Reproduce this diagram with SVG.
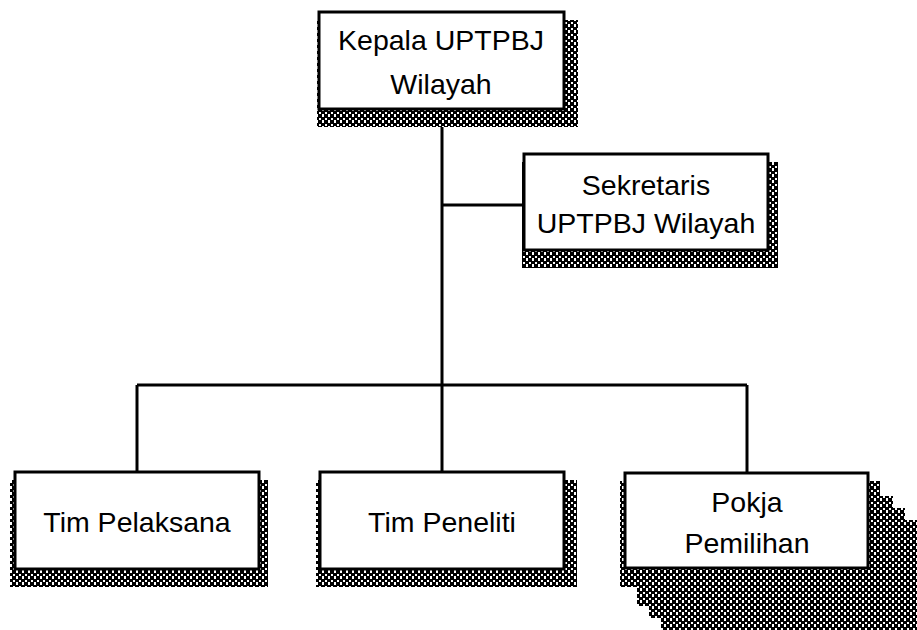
<svg xmlns="http://www.w3.org/2000/svg" width="917" height="630" viewBox="0 0 917 630">
  <defs>
    <pattern id="dots" width="6" height="6" patternUnits="userSpaceOnUse">
      <rect width="6" height="6" fill="#fff"/>
      <rect x="0" y="0" width="4" height="4" fill="#000"/>
      <rect x="3" y="3" width="4" height="3" fill="#000"/>
      <rect x="-3" y="3" width="4" height="3" fill="#000"/>
    </pattern>
    <style>
      .box { fill: #fff; stroke: #000; stroke-width: 3; }
      .shadow { fill: url(#dots); }
      .line { fill: none; stroke: #000; stroke-width: 3; }
      .lbl { font-family: "Liberation Sans", Arial, sans-serif; font-size: 28.5px; fill: #000; text-anchor: middle; }
    </style>
  </defs>

  <!-- connectors -->
  <g id="connectors">
    <path class="line" d="M442 109 V385"/>
    <path class="line" d="M442 205 H524"/>
    <path class="line" d="M137 385 H747"/>
    <path class="line" d="M137 385 V472"/>
    <path class="line" d="M442 385 V472"/>
    <path class="line" d="M747 385 V473"/>
  </g>

  <g id="kepala">
    <rect class="shadow" x="317" y="20" width="261" height="107"/>
    <rect class="box" x="319" y="12" width="245" height="97"/>
    <text class="lbl" x="441" y="50">Kepala UPTPBJ</text>
    <text class="lbl" x="441" y="94">Wilayah</text>
  </g>

  <g id="sekretaris">
    <rect class="shadow" x="522" y="162" width="256" height="106"/>
    <rect class="box" x="524" y="154" width="244" height="96"/>
    <text class="lbl" x="646" y="195">Sekretaris</text>
    <text class="lbl" x="646" y="233">UPTPBJ Wilayah</text>
  </g>

  <g id="tim-pelaksana">
    <rect class="shadow" x="10" y="480" width="258" height="107"/>
    <rect class="box" x="15" y="472" width="244" height="97"/>
    <text class="lbl" x="137" y="532">Tim Pelaksana</text>
  </g>

  <g id="tim-peneliti">
    <rect class="shadow" x="316" y="480" width="261" height="107"/>
    <rect class="box" x="320" y="472" width="244" height="97"/>
    <text class="lbl" x="442" y="532">Tim Peneliti</text>
  </g>

  <g id="pokja-pemilihan">
    <rect class="shadow" x="661" y="520" width="256" height="110"/>
    <rect class="shadow" x="649" y="508" width="256" height="110"/>
    <rect class="shadow" x="637" y="496" width="256" height="110"/>
    <rect class="shadow" x="620" y="481" width="260" height="106"/>
    <rect class="box" x="625" y="473" width="243" height="95"/>
    <text class="lbl" x="747" y="512">Pokja</text>
    <text class="lbl" x="747" y="553">Pemilihan</text>
  </g>
</svg>
